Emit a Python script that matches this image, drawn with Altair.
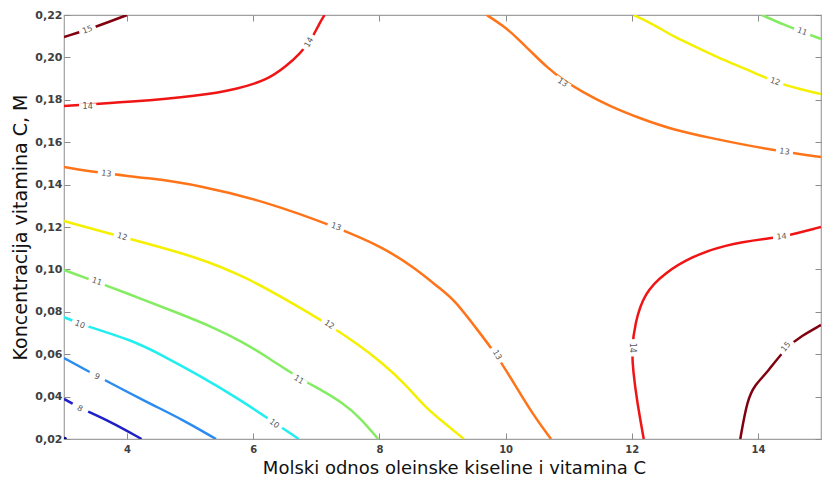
import altair as alt
import pandas as pd

# ---- contour lines (x = molar ratio, y = concentration) ----
c15a_x = [3.0, 3.5, 4.0]
c15a_y = [0.2096, 0.2143, 0.2200]
c14a_x = [3.0, 4.08, 5.13, 5.75, 6.22, 6.53, 6.73, 6.92, 7.05, 7.13]
c14a_y = [0.1771, 0.1790, 0.1818, 0.1851, 0.1893, 0.1960, 0.2015, 0.2082, 0.2162, 0.2200]
c13a_x = [9.70, 9.97, 10.17, 10.44, 10.67, 10.91, 11.22, 11.64, 12.16, 12.67, 13.25, 13.72, 14.42, 15.0]
c13a_y = [0.2200, 0.2148, 0.2096, 0.2016, 0.1950, 0.1893, 0.1837, 0.1771, 0.1709, 0.1658, 0.1620, 0.1591, 0.1554, 0.1530]
c12a_x = [12.03, 12.31, 12.67, 13.09, 13.45, 13.88, 14.27, 14.66, 15.0]
c12a_y = [0.2200, 0.2162, 0.2096, 0.2040, 0.1988, 0.1936, 0.1884, 0.1851, 0.1827]
c11a_x = [14.06, 14.42, 14.70, 15.0]
c11a_y = [0.2200, 0.2153, 0.2120, 0.2087]
c13b_x = [3.0, 3.56, 4.34, 5.13, 6.22, 7.31, 8.05, 8.56, 8.95, 9.19, 9.53, 9.86, 10.17, 10.44, 10.72]
c13b_y = [0.1483, 0.1455, 0.1431, 0.1398, 0.1318, 0.1200, 0.1106, 0.1007, 0.0912, 0.0856, 0.0724, 0.0596, 0.0445, 0.0313, 0.0200]
c12b_x = [3.0, 3.92, 5.13, 5.91, 6.53, 7.20, 7.63, 8.05, 8.41, 8.72, 9.03, 9.34]
c12b_y = [0.1228, 0.1153, 0.1058, 0.0959, 0.0856, 0.0738, 0.0653, 0.0558, 0.0459, 0.0351, 0.0275, 0.0200]
c11b_x = [3.0, 3.52, 4.19, 4.81, 5.39, 5.83, 6.22, 6.72, 7.08, 7.42, 7.70, 7.98]
c11b_y = [0.0997, 0.0941, 0.0865, 0.0794, 0.0724, 0.0658, 0.0587, 0.0488, 0.0431, 0.0370, 0.0299, 0.0200]
c10_x = [3.0, 3.25, 4.08, 4.58, 5.13, 5.75, 6.27, 6.72]
c10_y = [0.0775, 0.0742, 0.0667, 0.0591, 0.0502, 0.0393, 0.0290, 0.0200]
c9_x = [3.0, 3.52, 4.34, 4.89, 5.41]
c9_y = [0.0582, 0.0497, 0.0370, 0.0290, 0.0200]
c8_x = [3.0, 3.25, 3.72, 4.23]
c8_y = [0.0389, 0.0346, 0.0285, 0.0200]
c7_x = [3.0, 3.04]
c7_y = [0.0206, 0.0200]
c14b_x = [15.0, 14.38, 14.19, 13.45, 12.94, 12.52, 12.20, 12.05, 12.0, 12.02, 12.08, 12.19]
c14b_y = [0.1200, 0.1153, 0.1148, 0.1115, 0.1058, 0.0983, 0.0889, 0.0747, 0.0620, 0.0525, 0.0384, 0.0200]
c15b_x = [13.72, 13.83, 13.95, 14.14, 14.45, 14.69, 15.0]
c15b_y = [0.0200, 0.0384, 0.0455, 0.0511, 0.0634, 0.0686, 0.0738]

segments = [
    ("15a", 15, c15a_x, c15a_y), ("14a", 14, c14a_x, c14a_y),
    ("13a", 13, c13a_x, c13a_y), ("12a", 12, c12a_x, c12a_y),
    ("11a", 11, c11a_x, c11a_y), ("13b", 13, c13b_x, c13b_y),
    ("12b", 12, c12b_x, c12b_y), ("11b", 11, c11b_x, c11b_y),
    ("10", 10, c10_x, c10_y), ("9", 9, c9_x, c9_y), ("8", 8, c8_x, c8_y),
    ("7", 7, c7_x, c7_y), ("14b", 14, c14b_x, c14b_y), ("15b", 15, c15b_x, c15b_y),
]

# ---- inline contour labels ----
lab_level = [15, 14, 14, 13, 13, 12, 11, 13, 13, 13, 12, 12, 11, 11, 10, 10, 9, 8, 14, 14, 15]
lab_x = [3.375, 3.375, 6.89, 10.9, 14.42, 14.27, 14.70, 3.67, 7.31, 9.86, 3.92, 7.20,
         3.52, 6.72, 3.25, 6.33, 3.52, 3.25, 14.375, 12.0, 14.45]
lab_y = [0.2129, 0.1766, 0.2070, 0.1880, 0.1554, 0.1884, 0.2120, 0.1450, 0.1200, 0.0596,
         0.1153, 0.0738, 0.0941, 0.0478, 0.0738, 0.0271, 0.0492, 0.0342, 0.1153, 0.0630, 0.0634]
lab_angle = [340, 0, 300, 34, 8, 20, 21, 8, 20, 60, 17, 35, 20, 33, 23, 38, 25, 28, 355, 90, 310]

level_domain = [7, 8, 9, 10, 11, 12, 13, 14, 15]
level_colors = ["#00008c", "#2020c8", "#2a8cf0", "#22eef0", "#84ec62",
                "#f4f000", "#ff7418", "#f01414", "#800010"]

x_ticks = [4, 6, 8, 10, 12, 14]
y_ticks = [0.02, 0.04, 0.06, 0.08, 0.10, 0.12, 0.14, 0.16, 0.18, 0.20, 0.22]

rows = []
for seg, lev, xs, ys in segments:
    for i, (xv, yv) in enumerate(zip(xs, ys)):
        rows.append({"seg": seg, "level": lev, "x": xv, "y": yv, "i": i})
lines_df = pd.DataFrame(rows)

labels_df = pd.DataFrame({"level": lab_level, "x": lab_x, "y": lab_y,
                          "angle": lab_angle, "lab": [str(v) for v in lab_level]})

xs_scale = alt.Scale(domain=[3, 15], nice=False, zero=False)
ys_scale = alt.Scale(domain=[0.02, 0.22], nice=False, zero=False)

FONT = "DejaVu Sans"

x_axis = alt.Axis(orient="bottom", values=x_ticks, format="d", grid=False, domain=False,
                  tickSize=6, offset=-6, tickColor="#8c8c8c", labelPadding=5,
                  labelFont=FONT, labelFontSize=10, labelFontWeight="bold", labelColor="#404040",
                  title="Molski odnos oleinske kiseline i vitamina C",
                  titleFont=FONT, titleFontSize=18, titleFontWeight="normal", titleColor="#111111",
                  titleX=390, titleY=40, titleBaseline="alphabetic", titleAlign="center")
y_axis = alt.Axis(orient="left", values=y_ticks, grid=False, domain=False,
                  labelExpr="replace(format(datum.value, '.2f'), '.', ',')",
                  tickSize=6, offset=-6, tickColor="#8c8c8c", labelPadding=2,
                  labelFont=FONT, labelFontSize=11, labelFontWeight="bold", labelColor="#404040",
                  title="Koncentracija vitamina C, M",
                  titleFont=FONT, titleFontSize=19, titleFontWeight="normal", titleColor="#111111",
                  titleX=-44, titleY=212, titleAngle=-90, titleBaseline="alphabetic", titleAlign="center")
x_top = alt.Axis(orient="top", values=x_ticks, grid=False, domain=False, labels=False,
                 tickSize=6, offset=-6, tickColor="#8c8c8c", title=None)
y_right = alt.Axis(orient="right", values=y_ticks, grid=False, domain=False, labels=False,
                   tickSize=6, offset=-6, tickColor="#8c8c8c", title=None)

lines = alt.Chart(lines_df).mark_line(strokeWidth=2.5, interpolate="basis", clip=True).encode(
    x=alt.X("x:Q", scale=xs_scale, axis=x_axis),
    y=alt.Y("y:Q", scale=ys_scale, axis=y_axis),
    color=alt.Color("level:O", scale=alt.Scale(domain=level_domain, range=level_colors), legend=None),
    detail="seg:N",
    order="i:Q",
)

gaps = alt.Chart(labels_df).mark_point(
    shape="M-1,-0.42L1,-0.42L1,0.42L-1,0.42Z", filled=True, fill="white",
    opacity=1, strokeWidth=0, size=300).encode(
    x=alt.X("x:Q", scale=xs_scale, axis=None),
    y=alt.Y("y:Q", scale=ys_scale, axis=None),
    angle=alt.Angle("angle:Q", scale=None),
)

texts = alt.Chart(labels_df).mark_text(font=FONT, fontSize=8, color="#555555",
                                       align="center", baseline="middle").encode(
    x=alt.X("x:Q", scale=xs_scale, axis=None),
    y=alt.Y("y:Q", scale=ys_scale, axis=None),
    angle=alt.Angle("angle:Q", scale=None),
    text="lab:N",
)

frame_ticks = alt.Chart(lines_df).mark_point(opacity=0).encode(
    x=alt.X("x:Q", scale=xs_scale, axis=x_top),
    y=alt.Y("y:Q", scale=ys_scale, axis=y_right),
)

chart = alt.layer(lines, gaps, texts, frame_ticks).resolve_axis(
    x="independent", y="independent"
).properties(
    width=757, height=424,
    autosize=alt.AutoSizeParams(type="none"),
    padding={"left": 56, "top": 7, "right": 2, "bottom": 38},
    background="white",
).configure_view(stroke="#a0a0a0", strokeWidth=1.2)

chart.save("out.html", embed_options={"renderer": "svg", "actions": False})
